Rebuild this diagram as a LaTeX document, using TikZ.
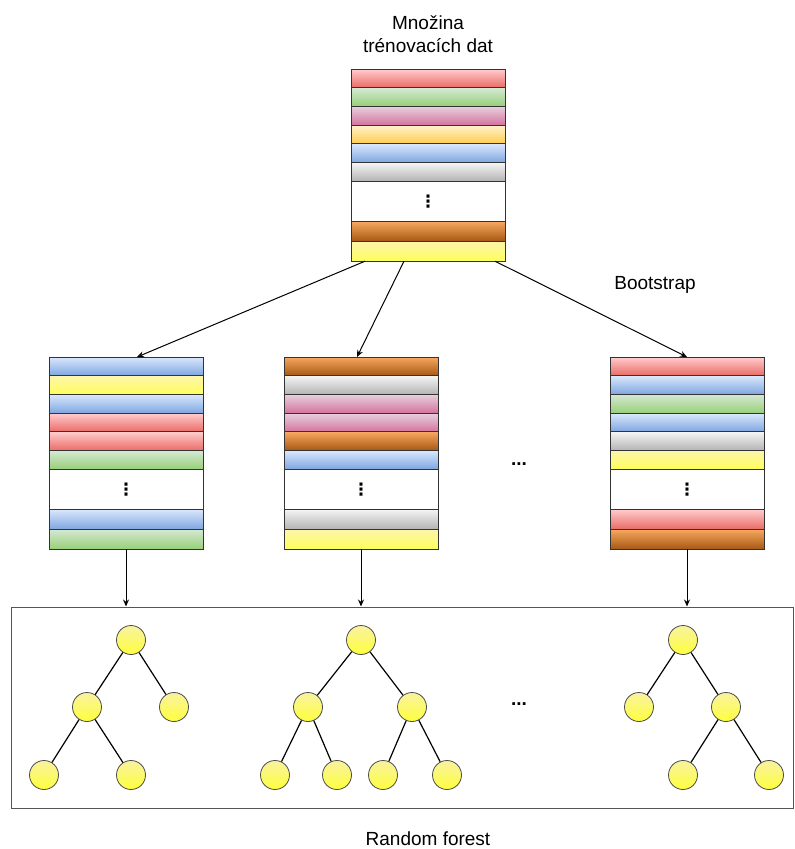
\documentclass[tikz,border=0pt]{standalone}
\usepackage{fontspec}
\setmainfont{Liberation Sans}
\newfontfamily\symfont{DejaVu Sans}
\usepackage{xcolor}
\usepackage{tikz}
\usetikzlibrary{calc,arrows.meta,positioning}

\definecolor{framegray}{HTML}{555555}

\tikzset{
  row/.style={draw=black!80, line width=1pt, minimum width=154pt, minimum height=18.7pt,
              inner sep=0pt, outer sep=0pt, anchor=north west},
  rowred/.style={top color=red!20!white, bottom color={rgb,255:red,234;green,107;blue,102}},
  rowgreen/.style={top color={rgb,255:red,213;green,232;blue,212}, bottom color={rgb,255:red,151;green,208;blue,119}},
  rowpink/.style={top color={rgb,255:red,230;green,208;blue,222}, bottom color={rgb,255:red,213;green,115;blue,157}},
  roworange/.style={top color={rgb,255:red,255;green,242;blue,204}, bottom color={rgb,255:red,255;green,205;blue,80}},
  rowblue/.style={top color={rgb,255:red,218;green,232;blue,252}, bottom color={rgb,255:red,126;green,166;blue,224}},
  rowgray/.style={top color={rgb,255:red,245;green,245;blue,245}, bottom color={rgb,255:red,179;green,179;blue,179}},
  rowbrown/.style={top color={rgb,255:red,248;green,168;blue,96}, bottom color={rgb,255:red,166;green,88;blue,18}},
  rowyellow/.style={top color={rgb,255:red,253;green,245;blue,172}, bottom color={rgb,255:red,255;green,255;blue,90}},
  leaf/.style={circle, draw=black!70, line width=0.8pt, minimum size=29pt, inner sep=0pt,
               top color={rgb,255:red,248;green,242;blue,160}, bottom color={rgb,255:red,255;green,255;blue,60}},
  branch/.style={line width=1.2pt},
  bootarrow/.style={line width=1pt, -{Stealth[open, length=7pt, width=6pt]}},
  lbl/.style={font=\fontsize{19}{23}\selectfont, align=center}
}

% #1 name, #2 top left corner, #3 six upper rows, #4 row below the dots, #5 last row
\newcommand{\datastack}[5]{%
  \foreach \c [count=\i] in {#3} {
    \node[row, \c] (#1-\i) at ($(#2)+(0,{(\i-1)*18.7})$) {};
  }
  \node[row, fill=white, minimum height=40pt] (#1-dots) at ($(#2)+(0,112.2)$)
    {\fontsize{17}{17}\selectfont\symfont\bfseries ⋮};
  \node[row, #4, minimum height=20pt] (#1-b1) at ($(#2)+(0,152.2)$) {};
  \node[row, #5, minimum height=20pt] (#1-b2) at ($(#2)+(0,172.2)$) {};
}

\begin{document}
\begin{tikzpicture}[x=1pt, y=-1pt]
\useasboundingbox (0,0) rectangle (795,849);

% training data and the bootstrap samples
\datastack{train}{351,69}{rowred,rowgreen,rowpink,roworange,rowblue,rowgray}{rowbrown}{rowyellow}
\datastack{bagA}{49,357}{rowblue,rowyellow,rowblue,rowred,rowred,rowgreen}{rowblue}{rowgreen}
\datastack{bagB}{284,357}{rowbrown,rowgray,rowpink,rowpink,rowbrown,rowblue}{rowgray}{rowyellow}
\datastack{bagC}{610,357}{rowred,rowblue,rowgreen,rowblue,rowgray,rowyellow}{rowred}{rowbrown}

\node[lbl] (title) at (428,34) {Množina\\trénovacích dat};
\node[lbl] (boot) at (655,285) {Bootstrap};
\node[lbl] (dotsA) at (519,464) {\bfseries ...};

\draw[bootarrow] ($(train-b2.south west)+(14,0)$) -- ($(bagA-1.north)+(11,0)$);
\draw[bootarrow] ($(train-b2.south west)+(53,0)$) -- ($(bagB-1.north)+(-4,0)$);
\draw[bootarrow] ($(train-b2.south west)+(144,0)$) -- (bagC-1.north);

% random forest
\node[draw=framegray, line width=1pt, minimum width=782pt, minimum height=201pt, inner sep=0pt] (forest) at (402,707.5) {};
\node[lbl] (rf) at (428,839) {Random forest};
\node[lbl] (dotsB) at (519,704) {\bfseries ...};

\draw[bootarrow] (bagA-b2.south) -- (bagA-b2.south |- forest.north);
\draw[bootarrow] (bagB-b2.south) -- (bagB-b2.south |- forest.north);
\draw[bootarrow] (bagC-b2.south) -- (bagC-b2.south |- forest.north);

% tree 1
\node[leaf] (a0) at (131,640) {};
\node[leaf] (a1) at (87,707) {};
\node[leaf] (a2) at (174,707) {};
\node[leaf] (a3) at (44,775) {};
\node[leaf] (a4) at (131,775) {};
\draw[branch] (a0) -- (a1) (a0) -- (a2) (a1) -- (a3) (a1) -- (a4);

% tree 2
\node[leaf] (b0) at (361,640) {};
\node[leaf] (b1) at (308,707) {};
\node[leaf] (b2) at (412,707) {};
\node[leaf] (b3) at (275,775) {};
\node[leaf] (b4) at (337,775) {};
\node[leaf] (b5) at (383,775) {};
\node[leaf] (b6) at (447,775) {};
\draw[branch] (b0) -- (b1) (b0) -- (b2) (b1) -- (b3) (b1) -- (b4) (b2) -- (b5) (b2) -- (b6);

% tree 3
\node[leaf] (c0) at (683,640) {};
\node[leaf] (c1) at (639,707) {};
\node[leaf] (c2) at (726,707) {};
\node[leaf] (c3) at (683,775) {};
\node[leaf] (c4) at (769,775) {};
\draw[branch] (c0) -- (c1) (c0) -- (c2) (c2) -- (c3) (c2) -- (c4);
\end{tikzpicture}
\end{document}
